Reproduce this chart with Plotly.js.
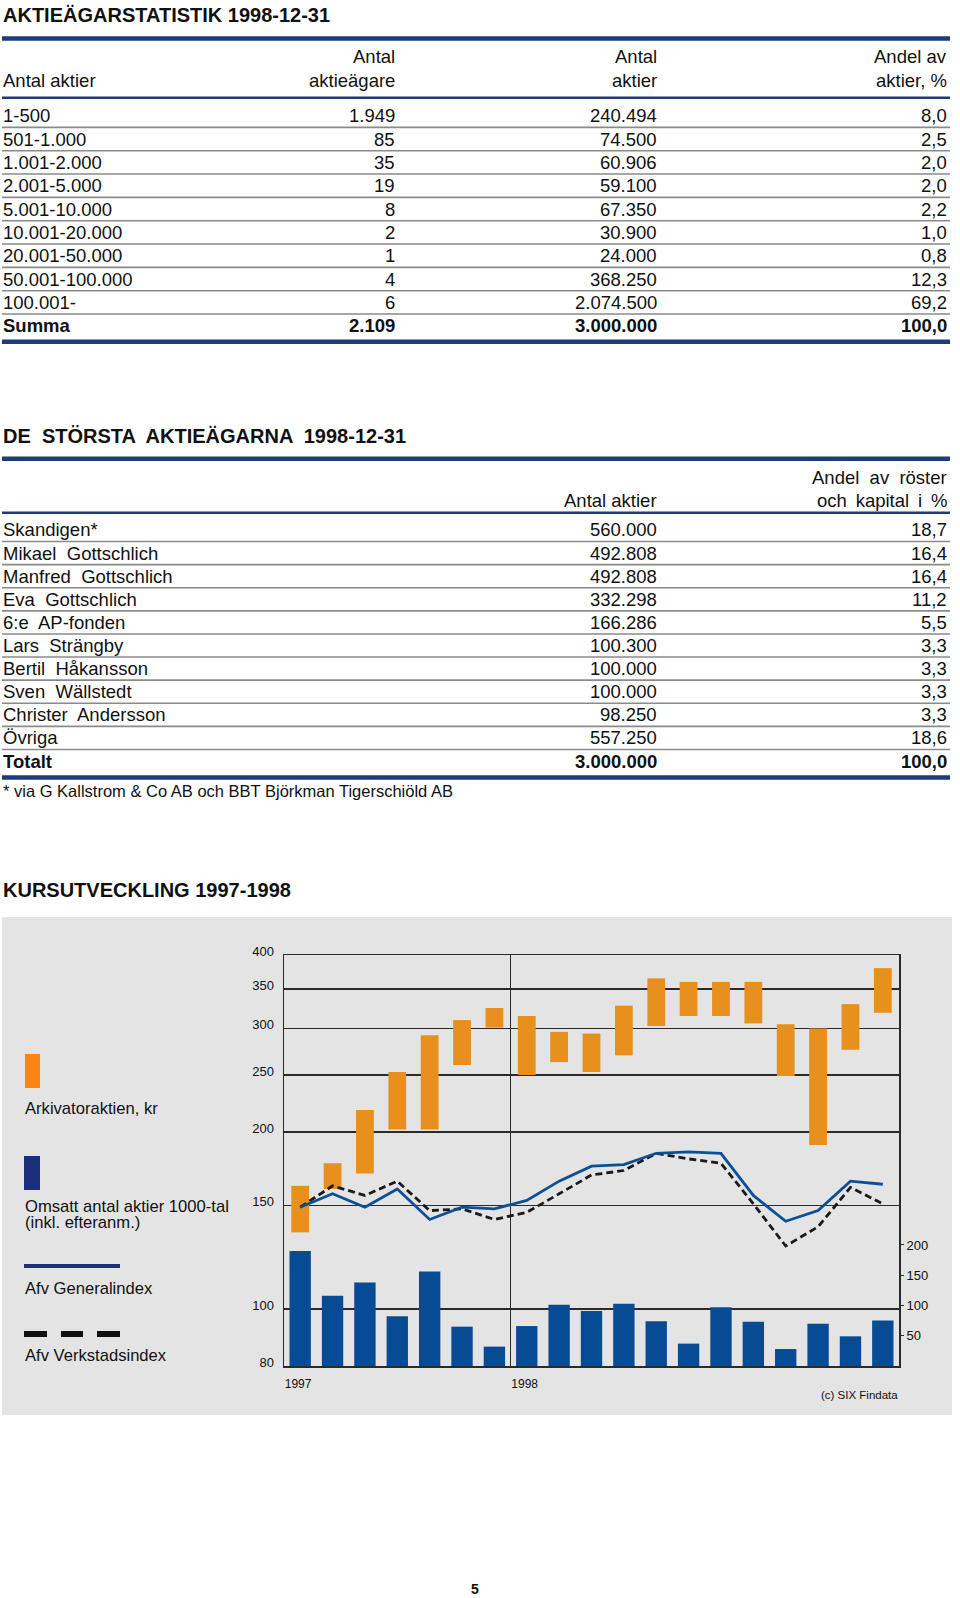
<!DOCTYPE html>
<html><head><meta charset="utf-8">
<script src="https://cdn.plot.ly/plotly-3.0.1.min.js"></script>
<style>html,body{margin:0;padding:0;background:#fff}</style>
</head><body><div id="chart" style="width:960px;height:1598px"></div>
<script>
// ---------- Table 1: Aktieägarstatistik ----------
const t1Title = 'AKTIEÄGARSTATISTIK 1998-12-31';
const t1Head1 = ['', 'Antal', 'Antal', 'Andel av'];
const t1Head2 = ['Antal aktier', 'aktieägare', 'aktier', 'aktier, %'];
const t1Classes = ['1-500','501-1.000','1.001-2.000','2.001-5.000','5.001-10.000','10.001-20.000','20.001-50.000','50.001-100.000','100.001-'];
const t1Owners = [1949, 85, 35, 19, 8, 2, 1, 4, 6];
const t1Shares = [240494, 74500, 60906, 59100, 67350, 30900, 24000, 368250, 2074500];
const t1Pct = [8.0, 2.5, 2.0, 2.0, 2.2, 1.0, 0.8, 12.3, 69.2];
const t1SumLabel = 'Summa';
const t1SumOwners = 2109, t1SumShares = 3000000, t1SumPct = 100.0;

// ---------- Table 2: De största aktieägarna ----------
const t2Title = 'DE  STÖRSTA  AKTIEÄGARNA  1998-12-31';
const t2Head1 = ['', '', 'Andel av röster'];
const t2Head2 = ['', 'Antal aktier', 'och kapital i %'];
const t2Names = ['Skandigen*','Mikael Gottschlich','Manfred Gottschlich','Eva Gottschlich','6:e AP-fonden','Lars Strängby','Bertil Håkansson','Sven Wällstedt','Christer Andersson','Övriga'];
const t2Shares = [560000, 492808, 492808, 332298, 166286, 100300, 100000, 100000, 98250, 557250];
const t2Pct = [18.7, 16.4, 16.4, 11.2, 5.5, 3.3, 3.3, 3.3, 3.3, 18.6];
const t2TotLabel = 'Totalt';
const t2TotShares = 3000000, t2TotPct = 100.0;
const t2Note = '* via G Kallstrom & Co AB och BBT Björkman Tigerschiöld AB';

// ---------- Chart: Kursutveckling ----------
const chartTitle = 'KURSUTVECKLING 1997-1998';
const months = ['1997-06','1997-07','1997-08','1997-09','1997-10','1997-11','1997-12',
  '1998-01','1998-02','1998-03','1998-04','1998-05','1998-06','1998-07','1998-08','1998-09','1998-10','1998-11','1998-12'];
const priceHigh = [162, 177, 218, 253, 292, 310, 325, 315, 296, 294, 328, 365, 360, 360, 360, 305, 300, 330, 380];
const priceLow  = [135, 160, 170, 202, 202, 260, 301, 250, 263, 253, 270, 303, 315, 315, 306, 249, 190, 276, 319];
const volume    = [190, 116, 138, 82, 156, 65, 32, 66, 101, 91, 103, 74, 37, 97, 73, 28, 70, 49, 75];
const generalIdx = [149, 157, 149, 160, 142, 149, 148, 153, 165, 175, 176, 184, 185, 184, 156, 141, 147, 165, 163];
const verkstadIdx = [149, 162, 156, 165, 147, 148, 142, 146, 157, 169, 172, 184, 180, 177, 151, 128, 138, 161, 151];
const leftTicks = [80, 100, 150, 200, 250, 300, 350, 400];
const rightTicks = [50, 100, 150, 200];
const yearLabels = ['1997', '1998'];
const legendTexts = ['Arkivatoraktien, kr', 'Omsatt antal aktier 1000-tal', '(inkl. efteranm.)', 'Afv Generalindex', 'Afv Verkstadsindex'];
const sourceText = '(c) SIX Findata';
const pageNo = '5';

// ---------- helpers ----------
const W = 960, H = 1598;
const FONT = 'Liberation Sans, Arial, Helvetica, sans-serif';
const NAVY = '#1f3b7b', GREY = '#8a8a8a', INK = '#111111';
const px = x => x / W;
const py = y => 1 - y / H;
const fmtInt = n => String(n).replace(/\B(?=(\d{3})+(?!\d))/g, '.');
const fmtPct = v => v.toFixed(1).replace('.', ',');
const wide = s => s.replace(/ /g, '\u00a0 ');
const semi = s => s.replace(/ /g, '\u2009 ');

const annotations = [];
const shapes = [];
function txt(x, y, text, anchor, size, bold, color) {
  annotations.push({xref: 'paper', yref: 'paper', x: px(x), y: py(y),
    text: bold ? '<b>' + text + '</b>' : text, xanchor: anchor, yanchor: 'middle',
    showarrow: false, borderpad: 0,
    font: {family: FONT, size: size, color: color || INK}});
}
function hline(x0, x1, y, w, color) {
  shapes.push({type: 'line', xref: 'paper', yref: 'paper', x0: px(x0), x1: px(x1), y0: py(y), y1: py(y),
    line: {color: color, width: w}});
}
function rect(x0, y0, x1, y1, color, layer) {
  shapes.push({type: 'rect', xref: 'paper', yref: 'paper', x0: px(x0), x1: px(x1), y0: py(y0), y1: py(y1),
    fillcolor: color, line: {width: 0}, layer: layer || 'above'});
}

const L = 2, R = 950;
const BODY = 18.5, TITLE = 20;

// ----- Table 1 -----
txt(L, 15, t1Title, 'left', TITLE, true);
hline(L, R, 38.5, 4.5, NAVY);
const t1Cols = [[L, 'left'], [396, 'right'], [658, 'right'], [948, 'right']];
t1Head1.forEach((h, i) => { if (h) txt(t1Cols[i][0], 56.5, h, t1Cols[i][1], BODY, false); });
t1Head2.forEach((h, i) => txt(t1Cols[i][0], 80, h, t1Cols[i][1], BODY, false));
hline(L, R, 97.7, 2.5, NAVY);
const t1Row0 = 115.7, t1Step = 23.33;
t1Classes.forEach((c, i) => {
  const y = t1Row0 + i * t1Step;
  const vals = [c, fmtInt(t1Owners[i]), fmtInt(t1Shares[i]), fmtPct(t1Pct[i])];
  vals.forEach((v, j) => txt(t1Cols[j][0], y, v, t1Cols[j][1], BODY, false));
  hline(L, R, y + t1Step / 2, 1.6, GREY);
});
{
  const y = t1Row0 + t1Classes.length * t1Step;
  const vals = [t1SumLabel, fmtInt(t1SumOwners), fmtInt(t1SumShares), fmtPct(t1SumPct)];
  vals.forEach((v, j) => txt(t1Cols[j][0], y, v, t1Cols[j][1], BODY, true));
  hline(L, R, y + 16, 4.5, NAVY);
}

// ----- Table 2 -----
txt(L, 436, t2Title, 'left', TITLE, true);
hline(L, R, 458.7, 4.5, NAVY);
const t2Cols = [[L, 'left'], [658, 'right'], [948, 'right']];
t2Head1.forEach((h, i) => { if (h) txt(t2Cols[i][0], 477.3, wide(h), t2Cols[i][1], BODY, false); });
t2Head2.forEach((h, i) => { if (h) txt(t2Cols[i][0], 500.7, i === 2 ? semi(h) : h, t2Cols[i][1], BODY, false); });
hline(L, R, 512.7, 2.5, NAVY);
const t2Row0 = 530, t2Step = 23.1;
t2Names.forEach((n, i) => {
  const y = t2Row0 + i * t2Step;
  const vals = [wide(n), fmtInt(t2Shares[i]), fmtPct(t2Pct[i])];
  vals.forEach((v, j) => txt(t2Cols[j][0], y, v, t2Cols[j][1], BODY, false));
  hline(L, R, y + t2Step / 2, 1.6, GREY);
});
{
  const y = t2Row0 + t2Names.length * t2Step;
  const vals = [t2TotLabel, fmtInt(t2TotShares), fmtPct(t2TotPct)];
  vals.forEach((v, j) => txt(t2Cols[j][0], y, v, t2Cols[j][1], BODY, true));
  hline(L, R, y + 16.5, 4.5, NAVY);
}
txt(L, 791, t2Note, 'left', 16.5, false);

// ----- Chart section -----
txt(L, 890, chartTitle, 'left', TITLE, true);
rect(2, 917, 952, 1415, '#e4e4e4', 'below');
// legend
const LEG = 16.6;
rect(25, 1054, 40, 1088, '#fb8418');
txt(24, 1108, legendTexts[0], 'left', LEG, false);
rect(24, 1156, 40, 1190, '#1b2f7b');
txt(24, 1206.5, legendTexts[1], 'left', LEG, false);
txt(24, 1222.5, legendTexts[2], 'left', LEG, false);
hline(24, 120, 1266, 4, '#1b317b');
txt(24, 1288.5, legendTexts[3], 'left', LEG, false);
[[24, 47], [61, 83], [97, 120]].forEach(d => hline(d[0], d[1], 1334, 6, '#111'));
txt(24, 1355, legendTexts[4], 'left', LEG, false);
txt(899, 1395, sourceText, 'right', 11.5, false);
txt(475, 1589, pageNo, 'center', 14, true);

const xIdx = months.map((m, i) => i);
const traces = [
  {type: 'bar', x: xIdx, base: priceLow, y: priceHigh.map((h, i) => h - priceLow[i]),
   yaxis: 'y', width: 0.55, marker: {color: '#e8901e'}, hoverinfo: 'skip', name: legendTexts[0]},
  {type: 'bar', x: xIdx, y: volume, yaxis: 'y2', width: 0.66, marker: {color: '#084b95'},
   hoverinfo: 'skip', name: legendTexts[1]},
  {type: 'scatter', mode: 'lines', x: xIdx, y: verkstadIdx, yaxis: 'y',
   line: {color: '#1a1a1a', width: 2.8, dash: '7px,4px'}, hoverinfo: 'skip', name: legendTexts[4]},
  {type: 'scatter', mode: 'lines', x: xIdx, y: generalIdx, yaxis: 'y',
   line: {color: '#0d4f96', width: 2.8}, hoverinfo: 'skip', name: legendTexts[3]},
];

const layout = {
  width: W, height: H, margin: {l: 0, r: 0, t: 0, b: 0},
  paper_bgcolor: '#ffffff', plot_bgcolor: 'rgba(0,0,0,0)',
  showlegend: false, barmode: 'overlay',
  font: {family: FONT, color: INK},
  xaxis: {domain: [px(284), px(899)], range: [-0.5, months.length - 0.5],
    tickvals: [-0.5, 6.5], ticktext: yearLabels, ticklabelposition: 'outside right',
    ticks: '', showgrid: true, gridcolor: '#2a2a2a', gridwidth: 1.5,
    showline: true, linecolor: '#2a2a2a', linewidth: 1.5, mirror: true,
    zeroline: false, tickfont: {size: 12, color: INK}, ticklabelstandoff: 6, fixedrange: true},
  yaxis: {domain: [py(1366), py(955)], type: 'log', range: [Math.log10(80), Math.log10(400)],
    tickvals: leftTicks, ticktext: leftTicks.map(String), ticks: '',
    showgrid: true, gridcolor: '#2a2a2a', gridwidth: 1.5,
    showline: true, linecolor: '#2a2a2a', linewidth: 1.5, mirror: true,
    zeroline: false, tickfont: {size: 13, color: INK}, ticklabelstandoff: 6, ticklabelshift: -4,
    fixedrange: true},
  yaxis2: {overlaying: 'y', side: 'right', anchor: 'x', range: [0, 679],
    tickvals: rightTicks, ticktext: rightTicks.map(String), ticks: 'outside', ticklen: 4,
    tickcolor: '#2a2a2a', showgrid: false, showline: false, zeroline: false,
    tickfont: {size: 13, color: INK}, fixedrange: true},
  shapes: shapes,
  annotations: annotations,
};

Plotly.newPlot('chart', traces, layout, {staticPlot: true, displayModeBar: false});
</script></body></html>
